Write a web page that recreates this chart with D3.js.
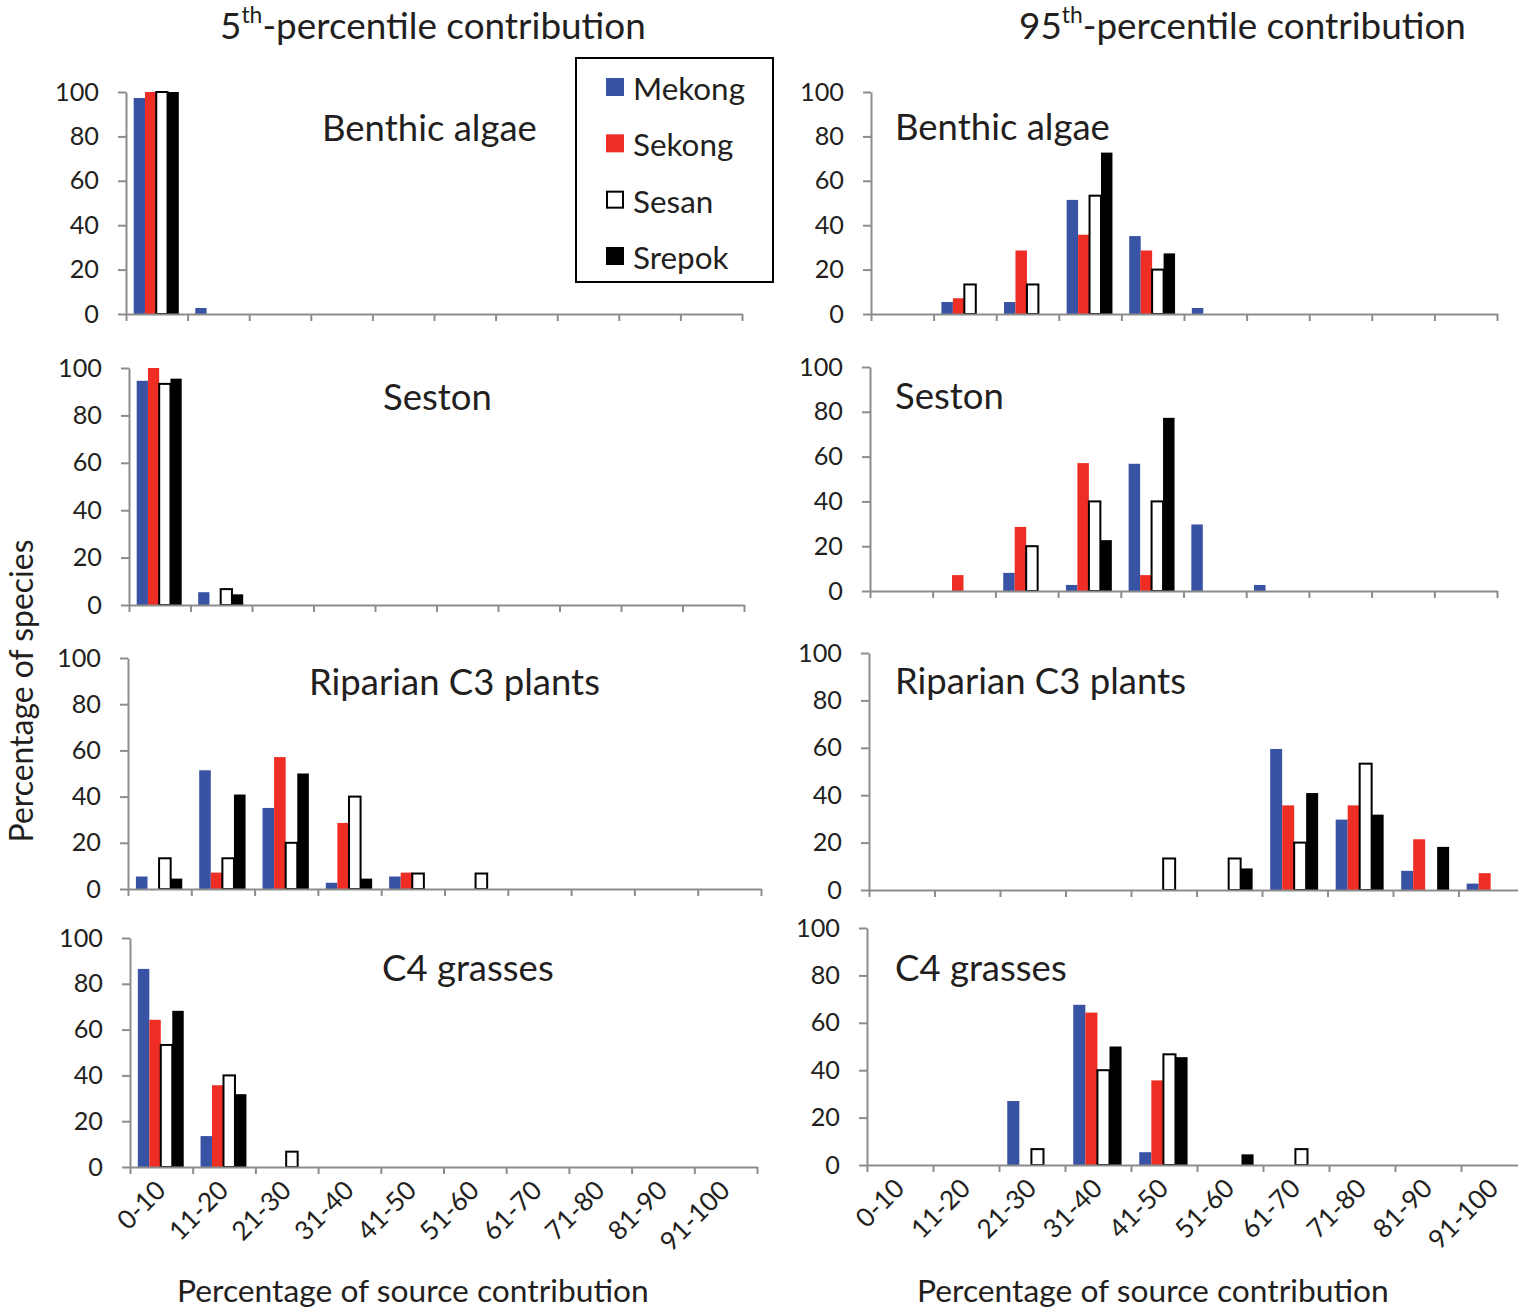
<!DOCTYPE html>
<html>
<head>
<meta charset="utf-8">
<script src="https://cdn.jsdelivr.net/npm/d3@7/dist/d3.min.js"></script>
<style>
  html, body { margin: 0; padding: 0; background: #fff; }
  svg { display: block; }
</style>
</head>
<body>
<script>
// Contribution bins (x categories) and river series
const bins = ["0-10", "11-20", "21-30", "31-40", "41-50", "51-60", "61-70", "71-80", "81-90", "91-100"];
const rivers = ["Mekong", "Sekong", "Sesan", "Srepok"];
const yTicks = [0, 20, 40, 60, 80, 100];

// Percentage of species per bin, one row per river (Mekong, Sekong, Sesan, Srepok)
const benthicAlgae5th = [
  [97.3, 2.7, 0, 0, 0, 0, 0, 0, 0, 0],
  [100, 0, 0, 0, 0, 0, 0, 0, 0, 0],
  [100, 0, 0, 0, 0, 0, 0, 0, 0, 0],
  [100, 0, 0, 0, 0, 0, 0, 0, 0, 0]
];
const seston5th = [
  [94.6, 5.4, 0, 0, 0, 0, 0, 0, 0, 0],
  [100, 0, 0, 0, 0, 0, 0, 0, 0, 0],
  [93.3, 6.7, 0, 0, 0, 0, 0, 0, 0, 0],
  [95.5, 4.5, 0, 0, 0, 0, 0, 0, 0, 0]
];
const riparianC3_5th = [
  [5.4, 51.4, 35.1, 2.7, 5.4, 0, 0, 0, 0, 0],
  [0, 7.1, 57.1, 28.6, 7.1, 0, 0, 0, 0, 0],
  [13.3, 13.3, 20, 40, 6.7, 6.7, 0, 0, 0, 0],
  [4.5, 40.9, 50, 4.5, 0, 0, 0, 0, 0, 0]
];
const c4Grasses5th = [
  [86.5, 13.5, 0, 0, 0, 0, 0, 0, 0, 0],
  [64.3, 35.7, 0, 0, 0, 0, 0, 0, 0, 0],
  [53.3, 40, 6.7, 0, 0, 0, 0, 0, 0, 0],
  [68.2, 31.8, 0, 0, 0, 0, 0, 0, 0, 0]
];
const benthicAlgae95th = [
  [0, 5.4, 5.4, 51.4, 35.1, 2.7, 0, 0, 0, 0],
  [0, 7.1, 28.6, 35.7, 28.6, 0, 0, 0, 0, 0],
  [0, 13.3, 13.3, 53.3, 20, 0, 0, 0, 0, 0],
  [0, 0, 0, 72.7, 27.3, 0, 0, 0, 0, 0]
];
const seston95th = [
  [0, 0, 8.1, 2.7, 56.8, 29.7, 2.7, 0, 0, 0],
  [0, 7.1, 28.6, 57.1, 7.1, 0, 0, 0, 0, 0],
  [0, 0, 20, 40, 40, 0, 0, 0, 0, 0],
  [0, 0, 0, 22.7, 77.3, 0, 0, 0, 0, 0]
];
const riparianC3_95th = [
  [0, 0, 0, 0, 0, 0, 59.5, 29.7, 8.1, 2.7],
  [0, 0, 0, 0, 0, 0, 35.7, 35.7, 21.4, 7.1],
  [0, 0, 0, 0, 13.3, 13.3, 20, 53.3, 0, 0],
  [0, 0, 0, 0, 0, 9.1, 40.9, 31.8, 18.2, 0]
];
const c4Grasses95th = [
  [0, 0, 27.0, 67.6, 5.4, 0, 0, 0, 0, 0],
  [0, 0, 0, 64.3, 35.7, 0, 0, 0, 0, 0],
  [0, 0, 6.7, 40, 46.7, 0, 6.7, 0, 0, 0],
  [0, 0, 0, 50, 45.5, 4.5, 0, 0, 0, 0]
];

const sourceNames = ["Benthic algae", "Seston", "Riparian C3 plants", "C4 grasses"];

// ---- drawing ----
const W = 1518, H = 1312;
const FONT = "Lato, 'Open Sans', sans-serif";
const TEXT = "#231f20";
const AXIS = "#8c8c8c";
const fills = { Mekong: "#3953a4", Sekong: "#ee2e24", Sesan: "#ffffff", Srepok: "#000000" };
const strokes = { Mekong: "none", Sekong: "none", Sesan: "#000000", Srepok: "none" };

const svg = d3.select("body").append("svg")
  .attr("width", W).attr("height", H)
  .attr("viewBox", `0 0 ${W} ${H}`)
  .style("font-family", FONT);
svg.append("rect").attr("width", W).attr("height", H).attr("fill", "#fff");

// font size that gives a string a given rendered width
function sizeForWidth(str, width, probe = 40) {
  const t = svg.append("text").attr("font-size", probe).text(str);
  const w = t.node().getComputedTextLength();
  t.remove();
  return probe * width / w;
}
const tickFs = sizeForWidth("100", 44);
const binFs = sizeForWidth("91-100", 86);
const panelTitleFs = sizeForWidth("Riparian C3 plants", 291);
const axisTitleFs = sizeForWidth("Percentage of source contribution", 472);
const yTitleFs = sizeForWidth("Percentage of species", 303);
const legendFs = sizeForWidth("Mekong", 112);

// panel frames: x range of the category axis, y pixel of 0 and of 100
const panels = [
  { data: benthicAlgae5th,  src: 0, x0: 126, x1: 742,  y0: 314,  y1: 92,  tx: 322, ty: 141, bottom: false },
  { data: seston5th,        src: 1, x0: 129, x1: 744,  y0: 605,  y1: 368, tx: 383, ty: 410, bottom: false },
  { data: riparianC3_5th,   src: 2, x0: 128, x1: 761,  y0: 889,  y1: 658, tx: 309, ty: 695, bottom: false },
  { data: c4Grasses5th,     src: 3, x0: 130, x1: 757,  y0: 1167, y1: 938, tx: 382, ty: 981, bottom: true },
  { data: benthicAlgae95th, src: 0, x0: 871, x1: 1497, y0: 314,  y1: 92,  tx: 895, ty: 140, bottom: false },
  { data: seston95th,       src: 1, x0: 870, x1: 1497, y0: 591,  y1: 367, tx: 895, ty: 409, bottom: false },
  { data: riparianC3_95th,  src: 2, x0: 869, x1: 1524, y0: 890,  y1: 653, tx: 895, ty: 694, bottom: false },
  { data: c4Grasses95th,    src: 3, x0: 867, x1: 1527, y0: 1165, y1: 928, tx: 895, ty: 981, bottom: true }
];

panels.forEach(p => {
  const g = svg.append("g");
  const x = d3.scaleBand().domain(bins).range([p.x0, p.x1]).paddingInner(0).paddingOuter(0);
  const bw = x.bandwidth();
  const barW = bw * 0.183;
  const xs = d3.scaleBand().domain(rivers).range([bw * 0.125, bw * 0.125 + 4 * barW]).padding(0);
  const y = d3.scaleLinear().domain([0, 100]).range([p.y0, p.y1]);

  // bars
  const cells = [];
  rivers.forEach((r, ri) => {
    bins.forEach((b, bi) => {
      const v = p.data[ri][bi];
      if (v > 0) cells.push({ r, b, v });
    });
  });
  g.append("g").selectAll("rect").data(cells).join("rect")
    .attr("x", d => x(d.b) + xs(d.r))
    .attr("width", xs.bandwidth())
    .attr("y", d => y(d.v))
    .attr("height", d => y(0) - y(d.v))
    .attr("fill", d => fills[d.r])
    .attr("stroke", d => strokes[d.r])
    .attr("stroke-width", 2);

  // y axis
  const ya = g.append("g").attr("transform", `translate(${p.x0},0)`)
    .call(d3.axisLeft(y).tickValues(yTicks).tickSize(8).tickSizeOuter(0).tickPadding(19));
  // x axis with ticks on the bin boundaries
  const xl = d3.scaleLinear().domain([0, bins.length]).range([p.x0, p.x1]);
  const xa = g.append("g").attr("transform", `translate(0,${p.y0})`)
    .call(d3.axisBottom(xl).tickValues(d3.range(bins.length + 1)).tickFormat("").tickSize(7).tickSizeOuter(0));
  [ya, xa].forEach(a => {
    a.select(".domain").attr("stroke", AXIS).attr("stroke-width", 2);
    a.selectAll(".tick line").attr("stroke", AXIS).attr("stroke-width", 2);
    a.selectAll("text").attr("font-family", FONT).attr("font-size", tickFs).attr("fill", TEXT);
  });

  // source name
  g.append("text").attr("x", p.tx).attr("y", p.ty)
    .attr("font-size", panelTitleFs).attr("fill", TEXT)
    .text(sourceNames[p.src]);

  // rotated bin labels under the bottom panels
  if (p.bottom) {
    g.append("g").selectAll("text").data(bins).join("text")
      .attr("transform", d => `translate(${x(d) + bw / 2 + 6},${p.y0 + 25}) rotate(-45)`)
      .attr("text-anchor", "end")
      .attr("font-size", binFs)
      .attr("fill", TEXT)
      .text(d => d);
    g.append("text")
      .attr("x", p.x0 < 500 ? 177 : 917).attr("y", 1302)
      .attr("font-size", axisTitleFs).attr("fill", TEXT)
      .text("Percentage of source contribution");
  }
});

// column headings with superscript ordinal
function heading(num, x, width) {
  const t = svg.append("text").attr("x", x).attr("y", 39).attr("font-size", 36).attr("fill", TEXT);
  t.append("tspan").text(num);
  t.append("tspan").attr("font-size", "0.62em").attr("dy", "-0.72em").text("th");
  t.append("tspan").attr("dy", "0.446em").text("-percentile contribution");
  const w = t.node().getComputedTextLength();
  t.attr("font-size", 36 * width / w);
}
heading("5", 220, 426);
heading("95", 1019, 447);

// y axis title
svg.append("text")
  .attr("transform", "translate(33,691) rotate(-90)")
  .attr("text-anchor", "middle")
  .attr("font-size", yTitleFs).attr("fill", TEXT)
  .text("Percentage of species");

// legend
const lg = svg.append("g");
lg.append("rect").attr("x", 576).attr("y", 58).attr("width", 197).attr("height", 224)
  .attr("fill", "#fff").attr("stroke", "#000").attr("stroke-width", 2);
const ly = d3.scalePoint().domain(rivers).range([87, 256]);
rivers.forEach(r => {
  const cy = ly(r);
  if (r === "Sesan") {
    lg.append("rect").attr("x", 607).attr("y", cy - 8).attr("width", 16).attr("height", 16)
      .attr("fill", "#fff").attr("stroke", "#000").attr("stroke-width", 2);
  } else {
    lg.append("rect").attr("x", 606).attr("y", cy - 9).attr("width", 18).attr("height", 18)
      .attr("fill", fills[r]);
  }
  lg.append("text").attr("x", 633).attr("y", cy + 13)
    .attr("font-size", legendFs).attr("fill", TEXT).text(r);
});
</script>
</body>
</html>
